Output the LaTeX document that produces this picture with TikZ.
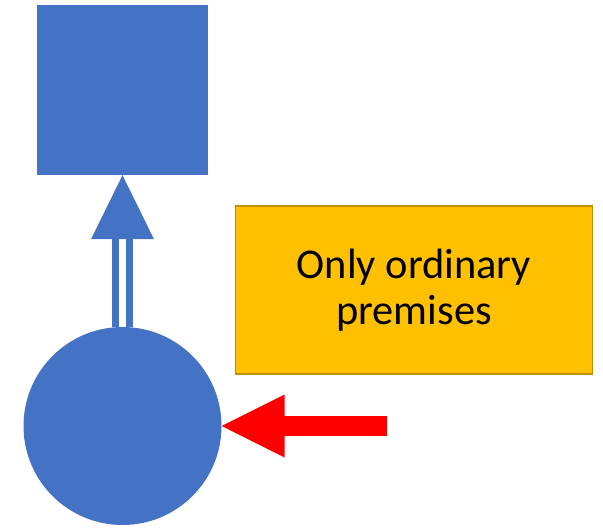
\documentclass[tikz,border=0pt]{standalone}
\usepackage{fontspec}
\newfontfamily\boxfont{Carlito}
\definecolor{shapeblue}{HTML}{4472C4}
\definecolor{notegold}{HTML}{FFC000}
\definecolor{noteedge}{HTML}{BF9000}
\definecolor{pointred}{HTML}{FF0000}
\tikzset{
  blueshape/.style={fill=shapeblue, draw=none, inner sep=0pt},
  notebox/.style={fill=notegold, draw=noteedge, line width=1.5pt, minimum width=357pt, minimum height=168pt,
    align=center, font=\boxfont\fontsize{42.4}{45.5}\selectfont},
  upshaft/.style={draw=shapeblue, line width=7.5pt, double=white, double distance=6.7pt},
  redshaft/.style={draw=pointred, line width=20.7pt}
}

\begin{document}
\begin{tikzpicture}[x=1pt,y=-1pt]
\useasboundingbox (0,0) rectangle (603,530);
% shapes
\node[blueshape, minimum width=171pt, minimum height=170pt] (sq) at (122.5,90) {};
\node[blueshape, circle, minimum size=198pt] (circ) at (122.5,426) {};
\node[notebox] (note) at (414,290) {Only ordinary\\premises};
% double arrow up
\draw[upshaft] (circ.north) -- ([yshift=-63pt]sq.south);
\fill[shapeblue] (sq.south) -- ++(31.5,64) -- ++(-63,0) -- cycle;
% red arrow
\coordinate (redtail) at (387,426);
\draw[redshaft] (redtail) -- ([xshift=62pt]circ.east);
\fill[pointred] (circ.east) -- ++(63,-31.5) -- ++(0,63) -- cycle;
\end{tikzpicture}
\end{document}
